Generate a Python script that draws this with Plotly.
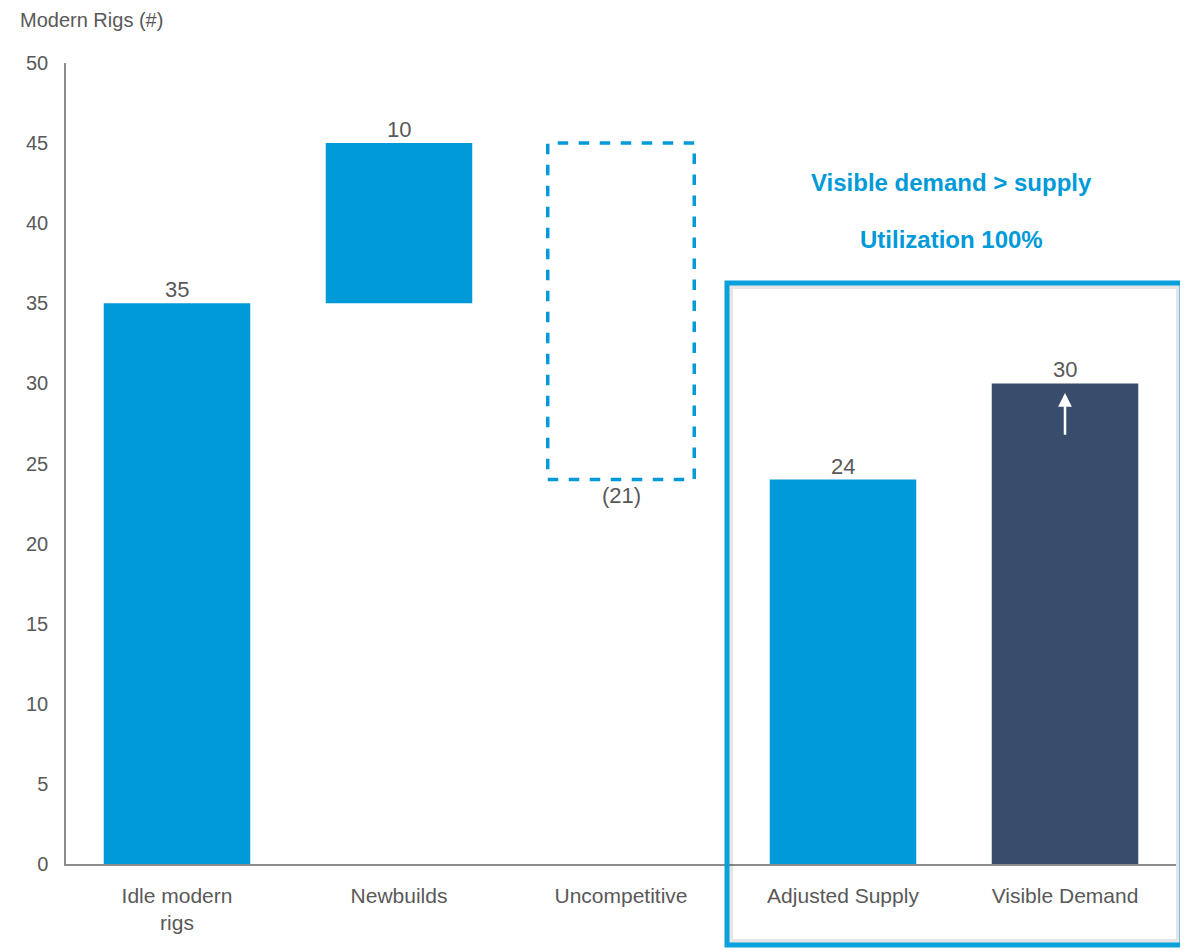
import plotly.graph_objects as go

categories = ["Idle modern<br>rigs", "Newbuilds", "Uncompetitive", "Adjusted Supply", "Visible Demand"]
bases = [0, 35, 24, 0, 0]
heights = [35, 10, 21, 24, 30]
labels = ["35", "10", "(21)", "24", "30"]
fills = ["#009AD9", "#009AD9", "rgba(0,0,0,0)", "#009AD9", "#384C6C"]
arrow_from, arrow_to = 26.7, 29.4
y_ticks = [0, 5, 10, 15, 20, 25, 30, 35, 40, 45, 50]

BLUE = "#009AD9"
GRAY = "#595959"
FONT = "Liberation Sans, Arial, sans-serif"
bw = 0.66

fig = go.Figure()
fig.add_trace(go.Bar(
    x=list(range(len(categories))), y=heights, base=bases, width=bw,
    marker=dict(color=fills, line=dict(width=0)), hoverinfo="skip", showlegend=False,
))

# dashed outline for the negative (Uncompetitive) step
for i, (b, h) in enumerate(zip(bases, heights)):
    if fills[i].startswith("rgba"):
        fig.add_shape(type="rect", xref="x", yref="y", x0=i - bw / 2, x1=i + bw / 2, y0=b, y1=b + h,
                      line=dict(color=BLUE, width=3.5, dash="dash"), fillcolor="rgba(0,0,0,0)")
        fig.add_annotation(x=i, y=b, text=labels[i], showarrow=False, yanchor="top", yshift=-1,
                           font=dict(family=FONT, size=22, color=GRAY))
    else:
        fig.add_annotation(x=i, y=b + h, text=labels[i], showarrow=False, yanchor="bottom", yshift=-1,
                           font=dict(family=FONT, size=22, color=GRAY))

# white arrow on visible demand
fig.add_annotation(x=4, y=arrow_to, ax=4, ay=arrow_from, xref="x", yref="y", axref="x", ayref="y",
                   text="", showarrow=True, arrowhead=2, arrowsize=1.1, arrowwidth=2.5, arrowcolor="white")

# highlight box (with soft inner shadow)
fig.add_shape(type="rect", xref="paper", yref="paper", x0=0.5992, x1=1.0018, y0=-0.096, y1=0.7203,
              line=dict(color="rgba(0,0,0,0.10)", width=4), layer="above")
fig.add_shape(type="rect", xref="paper", yref="paper", x0=0.5955, x1=1.0054, y0=-0.101, y1=0.7253,
              line=dict(color="#0AA0DC", width=5), layer="above")

fig.add_annotation(xref="paper", yref="paper", x=0.798, y=0.851, xanchor="center", yanchor="middle",
                   text="<b>Visible demand > supply</b>",
                   showarrow=False, font=dict(family=FONT, size=24, color=BLUE))
fig.add_annotation(xref="paper", yref="paper", x=0.798, y=0.780, xanchor="center", yanchor="middle",
                   text="<b>Utilization 100%</b>",
                   showarrow=False, font=dict(family=FONT, size=24, color=BLUE))

fig.add_annotation(xref="paper", yref="paper", x=-0.0432, y=1.0, yshift=43, xanchor="left", yanchor="middle",
                   text="Modern Rigs (#)", showarrow=False, font=dict(family=FONT, size=20, color=GRAY))

# page body has an 8px margin; compensate so the plot lands where the reference has it
fig.update_layout(
    width=1180, height=942,
    margin=dict(l=58, r=12, t=55, b=86),
    paper_bgcolor="white", plot_bgcolor="white",
    font=dict(family=FONT, color=GRAY, size=21),
    xaxis=dict(tickmode="array", tickvals=list(range(len(categories))), ticktext=categories,
               range=[-0.5, 4.5], showgrid=False, zeroline=False, showline=True, linecolor="#8C8C8C",
               linewidth=1.5, ticks="", ticklabelstandoff=12, tickfont=dict(size=21, color=GRAY)),
    yaxis=dict(range=[0, 50], tickvals=y_ticks, showgrid=False, zeroline=False, showline=True,
               linecolor="#8C8C8C", linewidth=1.5, ticks="", ticklabelstandoff=12,
               tickfont=dict(size=20, color=GRAY)),
)

fig.write_html("out.html")
